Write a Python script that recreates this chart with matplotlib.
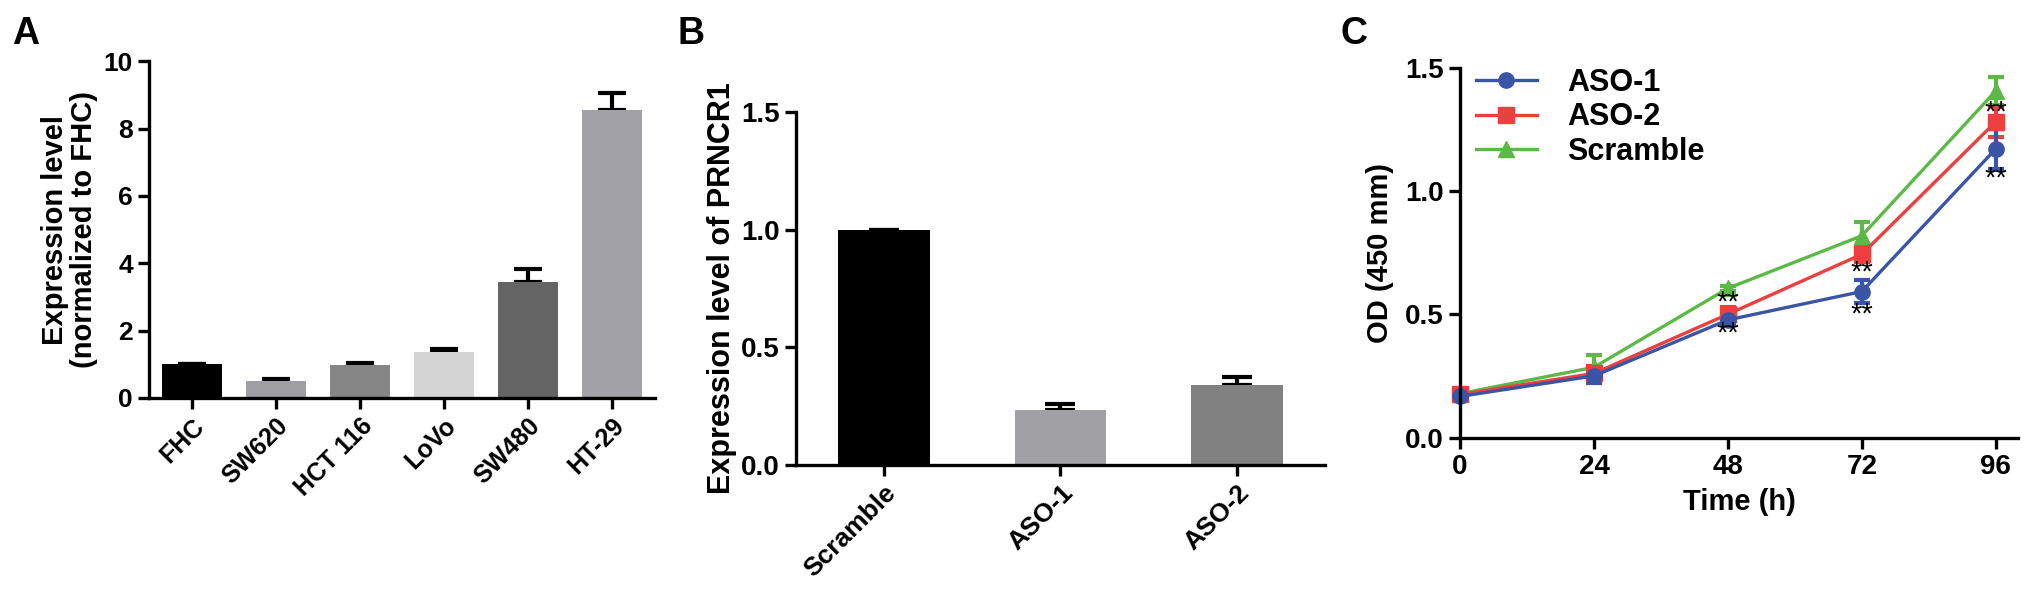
import matplotlib
matplotlib.use("Agg")
import matplotlib.pyplot as plt
import numpy as np

plt.rcParams["font.family"] = ["Liberation Sans", "DejaVu Sans"]
plt.rcParams["font.weight"] = "bold"

# Panel A: PRNCR1 expression in cell lines
cell_lines = ["FHC", "SW620", "HCT 116", "LoVo", "SW480", "HT-29"]
cell_expr = [1.0, 0.51, 0.98, 1.36, 3.44, 8.54]
cell_err = [0.0, 0.05, 0.05, 0.1, 0.38, 0.52]
cell_colors = ["#000000", "#9e9ea3", "#858585", "#d4d4d4", "#646464", "#a1a1a7"]

# Panel B: knockdown
kd_groups = ["Scramble", "ASO-1", "ASO-2"]
kd_expr = [1.0, 0.235, 0.342]
kd_err = [0.0, 0.025, 0.03]
kd_colors = ["#000000", "#a1a1a5", "#818181"]

# Panel C: CCK-8 growth curves
hours = [0, 24, 48, 72, 96]
od_aso1 = [0.167, 0.25, 0.477, 0.592, 1.17]
od_aso1_err = [0.01, 0.03, 0.02, 0.045, 0.08]
od_aso2 = [0.175, 0.26, 0.50, 0.743, 1.28]
od_aso2_err = [0.01, 0.03, 0.03, 0.03, 0.06]
od_scr = [0.178, 0.285, 0.605, 0.818, 1.405]
od_scr_err = [0.01, 0.05, 0.01, 0.055, 0.055]
star_x = [48, 48, 72, 72, 96, 96]
star_y = [0.548, 0.42, 0.67, 0.50, 1.317, 1.05]

LW = 2.4


def style(ax):
    for s in ["top", "right"]:
        ax.spines[s].set_visible(False)
    for s in ["left", "bottom"]:
        ax.spines[s].set_linewidth(LW)
    ax.tick_params(direction="out", length=8, width=LW)


fig = plt.figure(figsize=(20.31, 5.89), dpi=100)

# ---- A ----
axA = fig.add_axes([0.0734, 0.3243, 0.2491, 0.5718])
x = np.arange(len(cell_lines))
axA.bar(x, cell_expr, 0.72, color=cell_colors, zorder=2)
axA.errorbar(x, cell_expr, yerr=[np.zeros(len(x)), cell_err], fmt="none",
             ecolor="black", elinewidth=3, capsize=10, capthick=3, zorder=1)
axA.set_xlim(-0.51, 5.51)
axA.set_ylim(0, 10)
axA.set_yticks([0, 2, 4, 6, 8, 10])
axA.set_xticks(x)
axA.set_xticklabels(cell_lines, rotation=45, ha="right", rotation_mode="anchor", fontsize=18)
axA.tick_params(axis="y", labelsize=19)
axA.set_ylabel("Expression level\n(normalized to FHC)", fontsize=21, fontweight="bold",
               labelpad=4, linespacing=1.05)
style(axA)
fig.text(0.006, 0.972, "A", fontsize=27, fontweight="bold", va="top")

# ---- B ----
axB = fig.add_axes([0.3919, 0.2105, 0.2605, 0.5993])
xb = np.arange(len(kd_groups))
axB.bar(xb, kd_expr, 0.52, color=kd_colors, zorder=2)
axB.errorbar(xb, kd_expr, yerr=[np.zeros(len(xb)), kd_err], fmt="none",
             ecolor="black", elinewidth=3, capsize=11, capthick=3, zorder=1)
axB.set_xlim(-0.5, 2.5)
axB.set_ylim(0, 1.5)
axB.set_yticks([0.0, 0.5, 1.0, 1.5])
axB.set_yticklabels(["0.0", "0.5", "1.0", "1.5"])
axB.set_xticks(xb)
axB.set_xticklabels(kd_groups, rotation=45, ha="right", rotation_mode="anchor", fontsize=19)
axB.tick_params(axis="y", labelsize=20)
axB.set_ylabel("Expression level of PRNCR1", fontsize=22, fontweight="bold", labelpad=3)
style(axB)
fig.text(0.3338, 0.972, "B", fontsize=27, fontweight="bold", va="top")

# ---- C ----
axC = fig.add_axes([0.7189, 0.2571, 0.2747, 0.6282])
series = [
    ("Scramble", od_scr, od_scr_err, "#5cb947", "^"),
    ("ASO-2", od_aso2, od_aso2_err, "#ee3f3f", "s"),
    ("ASO-1", od_aso1, od_aso1_err, "#3a55a6", "o"),
]
handles = {}
for name, y, e, c, m in series:
    axC.errorbar(hours, y, yerr=e, color=c, marker=m, markersize=11, lw=2.4,
                 elinewidth=3, capsize=6, capthick=3, clip_on=False)
    handles[name] = plt.Line2D([], [], color=c, marker=m, markersize=11, lw=2.4)
for sx, sy in zip(star_x, star_y):
    axC.text(sx, sy, "**", fontsize=21, ha="center", va="center", fontweight="normal")
axC.set_xlim(0, 100)
axC.set_ylim(0, 1.5)
axC.set_xticks(hours)
axC.set_yticks([0.0, 0.5, 1.0, 1.5])
axC.set_yticklabels(["0.0", "0.5", "1.0", "1.5"])
axC.tick_params(labelsize=20)
axC.set_xlabel("Time (h)", fontsize=21, fontweight="bold", labelpad=6)
axC.set_ylabel("OD (450 mm)", fontsize=21, fontweight="bold", labelpad=8)
style(axC)
order = ["ASO-1", "ASO-2", "Scramble"]
axC.legend([handles[k] for k in order], order, loc="upper left",
           bbox_to_anchor=(0.7265, 0.885), bbox_transform=fig.transFigure,
           frameon=False, fontsize=22, handlelength=2.0, labelspacing=0.15,
           borderpad=0, borderaxespad=0, handletextpad=1.0)
fig.text(0.6598, 0.972, "C", fontsize=27, fontweight="bold", va="top")

fig.savefig("out.png", dpi=100)
